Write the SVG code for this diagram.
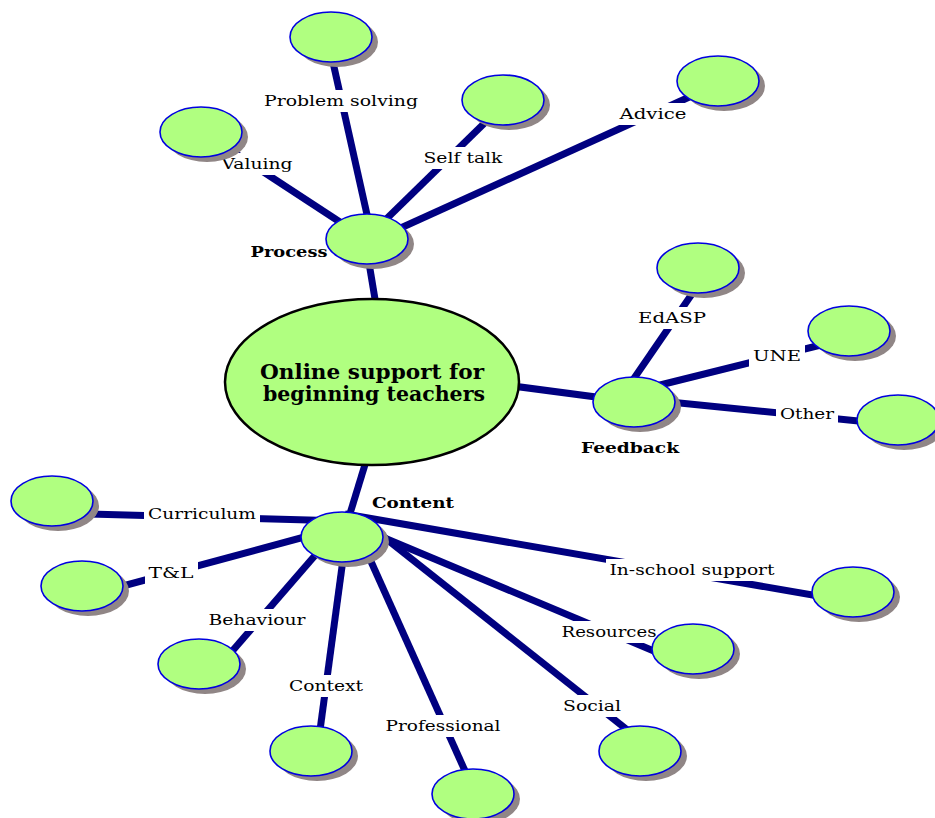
<svg xmlns="http://www.w3.org/2000/svg" width="935" height="818" viewBox="0 0 935 818">
<defs>
<style>
.c{stroke:#000080;stroke-width:7;stroke-linecap:butt;fill:none}
.sh{fill:#908686}
.n{fill:#b0ff80;stroke:#0000e0;stroke-width:1.6}
.bg{fill:#ffffff}
.t{font-family:"DejaVu Serif","Liberation Serif",serif;font-size:15px;fill:#000;text-anchor:middle}
.b{font-family:"DejaVu Serif","Liberation Serif",serif;font-size:15px;font-weight:bold;fill:#000;text-anchor:middle}
</style>
</defs>
<rect width="935" height="818" fill="#ffffff"/>
<g id="connectors">
<line class="c" x1="366" y1="245" x2="376" y2="305"/>
<line class="c" x1="372" y1="237" x2="328" y2="40"/>
<line class="c" x1="372" y1="243" x2="201" y2="131"/>
<line class="c" x1="372" y1="233" x2="503" y2="105"/>
<line class="c" x1="372" y1="241" x2="718" y2="84"/>
<line class="c" x1="505" y1="385" x2="634" y2="402"/>
<line class="c" x1="626" y1="390" x2="705" y2="275"/>
<line class="c" x1="640" y1="390" x2="849" y2="338"/>
<line class="c" x1="640" y1="399" x2="898" y2="425"/>
<line class="c" x1="367" y1="458" x2="345" y2="530"/>
<line class="c" x1="52" y1="513" x2="345" y2="521"/>
<line class="c" x1="82" y1="597" x2="345" y2="526"/>
<line class="c" x1="331" y1="537" x2="215" y2="671"/>
<line class="c" x1="346" y1="537" x2="318" y2="745"/>
<line class="c" x1="360" y1="537" x2="470" y2="782"/>
<line class="c" x1="375" y1="530" x2="640" y2="740"/>
<line class="c" x1="375" y1="534" x2="680" y2="662"/>
<line class="c" x1="345" y1="514" x2="853" y2="602"/>
</g>
<g id="labels">
<rect class="bg" x="260" y="90" width="162" height="22"/><text class="t" x="341" y="106" textLength="154" lengthAdjust="spacingAndGlyphs">Problem solving</text>
<rect class="bg" x="218" y="153" width="79" height="22"/><text class="t" x="257" y="169" textLength="71" lengthAdjust="spacingAndGlyphs">Valuing</text>
<rect class="bg" x="420" y="147" width="87" height="22"/><text class="t" x="463" y="163" textLength="79" lengthAdjust="spacingAndGlyphs">Self talk</text>
<rect class="bg" x="616" y="103" width="75" height="22"/><text class="t" x="653" y="119" textLength="67" lengthAdjust="spacingAndGlyphs">Advice</text>
<rect class="bg" x="634" y="307" width="76" height="22"/><text class="t" x="672" y="323" textLength="68" lengthAdjust="spacingAndGlyphs">EdASP</text>
<rect class="bg" x="749" y="345" width="56" height="22"/><text class="t" x="777" y="361" textLength="48" lengthAdjust="spacingAndGlyphs">UNE</text>
<rect class="bg" x="776" y="403" width="62" height="22"/><text class="t" x="807" y="419" textLength="54" lengthAdjust="spacingAndGlyphs">Other</text>
<rect class="bg" x="144" y="503" width="116" height="22"/><text class="t" x="202" y="519" textLength="108" lengthAdjust="spacingAndGlyphs">Curriculum</text>
<rect class="bg" x="145" y="562" width="53" height="22"/><text class="t" x="171" y="578" textLength="45" lengthAdjust="spacingAndGlyphs">T&amp;L</text>
<rect class="bg" x="205" y="609" width="105" height="22"/><text class="t" x="257" y="625" textLength="97" lengthAdjust="spacingAndGlyphs">Behaviour</text>
<rect class="bg" x="285" y="675" width="82" height="22"/><text class="t" x="326" y="691" textLength="74" lengthAdjust="spacingAndGlyphs">Context</text>
<rect class="bg" x="382" y="715" width="123" height="22"/><text class="t" x="443" y="731" textLength="115" lengthAdjust="spacingAndGlyphs">Professional</text>
<rect class="bg" x="559" y="695" width="66" height="22"/><text class="t" x="592" y="711" textLength="58" lengthAdjust="spacingAndGlyphs">Social</text>
<rect class="bg" x="558" y="621" width="103" height="22"/><text class="t" x="609" y="637" textLength="95" lengthAdjust="spacingAndGlyphs">Resources</text>
<rect class="bg" x="606" y="559" width="173" height="22"/><text class="t" x="692" y="575" textLength="165" lengthAdjust="spacingAndGlyphs">In-school support</text>
</g>
<g id="central">
<ellipse cx="372" cy="382" rx="147" ry="83" fill="#b0ff80" stroke="#000" stroke-width="2.5"/>
<text class="b" x="372" y="379" style="font-size:20px" textLength="224" lengthAdjust="spacingAndGlyphs">Online support for</text>
<text class="b" x="374" y="401" style="font-size:20px" textLength="222" lengthAdjust="spacingAndGlyphs">beginning teachers</text>
</g>
<g id="process"><ellipse class="sh" cx="373" cy="244" rx="41" ry="25"/><ellipse class="n" cx="367" cy="239" rx="41" ry="25"/><text class="b" x="289" y="257" textLength="77" lengthAdjust="spacingAndGlyphs">Process</text></g>
<g id="problem-solving"><ellipse class="sh" cx="337" cy="42" rx="41" ry="25"/><ellipse class="n" cx="331" cy="37" rx="41" ry="25"/></g>
<g id="valuing"><ellipse class="sh" cx="207" cy="137" rx="41" ry="25"/><ellipse class="n" cx="201" cy="132" rx="41" ry="25"/></g>
<g id="self-talk"><ellipse class="sh" cx="509" cy="105" rx="41" ry="25"/><ellipse class="n" cx="503" cy="100" rx="41" ry="25"/></g>
<g id="advice"><ellipse class="sh" cx="724" cy="86" rx="41" ry="25"/><ellipse class="n" cx="718" cy="81" rx="41" ry="25"/></g>
<g id="feedback"><ellipse class="sh" cx="640" cy="407" rx="41" ry="25"/><ellipse class="n" cx="634" cy="402" rx="41" ry="25"/><text class="b" x="630" y="453" textLength="98" lengthAdjust="spacingAndGlyphs">Feedback</text></g>
<g id="edasp"><ellipse class="sh" cx="704" cy="273" rx="41" ry="25"/><ellipse class="n" cx="698" cy="268" rx="41" ry="25"/></g>
<g id="une"><ellipse class="sh" cx="855" cy="336" rx="41" ry="25"/><ellipse class="n" cx="849" cy="331" rx="41" ry="25"/></g>
<g id="other"><ellipse class="sh" cx="904" cy="425" rx="41" ry="25"/><ellipse class="n" cx="898" cy="420" rx="41" ry="25"/></g>
<g id="content"><ellipse class="sh" cx="348" cy="542" rx="41" ry="25"/><ellipse class="n" cx="342" cy="537" rx="41" ry="25"/><text class="b" x="413" y="508" textLength="82" lengthAdjust="spacingAndGlyphs">Content</text></g>
<g id="curriculum"><ellipse class="sh" cx="58" cy="506" rx="41" ry="25"/><ellipse class="n" cx="52" cy="501" rx="41" ry="25"/></g>
<g id="tl"><ellipse class="sh" cx="88" cy="591" rx="41" ry="25"/><ellipse class="n" cx="82" cy="586" rx="41" ry="25"/></g>
<g id="behaviour"><ellipse class="sh" cx="205" cy="669" rx="41" ry="25"/><ellipse class="n" cx="199" cy="664" rx="41" ry="25"/></g>
<g id="context"><ellipse class="sh" cx="317" cy="756" rx="41" ry="25"/><ellipse class="n" cx="311" cy="751" rx="41" ry="25"/></g>
<g id="professional"><ellipse class="sh" cx="479" cy="799" rx="41" ry="25"/><ellipse class="n" cx="473" cy="794" rx="41" ry="25"/></g>
<g id="social"><ellipse class="sh" cx="646" cy="756" rx="41" ry="25"/><ellipse class="n" cx="640" cy="751" rx="41" ry="25"/></g>
<g id="resources"><ellipse class="sh" cx="699" cy="654" rx="41" ry="25"/><ellipse class="n" cx="693" cy="649" rx="41" ry="25"/></g>
<g id="in-school-support"><ellipse class="sh" cx="859" cy="597" rx="41" ry="25"/><ellipse class="n" cx="853" cy="592" rx="41" ry="25"/></g>
</svg>
